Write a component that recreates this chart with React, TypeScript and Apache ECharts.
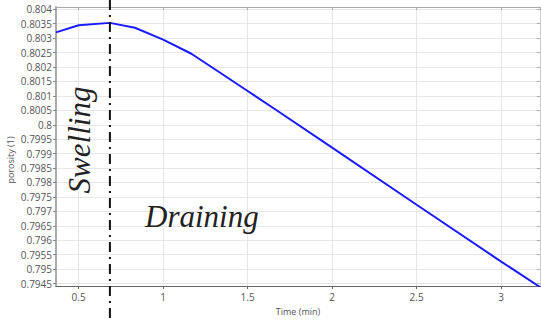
import React, { useEffect, useRef } from "react";
import * as echarts from "echarts";

const timeMin = [0.366, 0.5, 0.685, 0.833, 1.0, 1.167, 1.333, 1.5, 1.667, 2.0, 2.5, 3.0, 3.232];
const porosity = [0.8032, 0.80345, 0.80353, 0.80336, 0.80295, 0.80246, 0.80182, 0.80117, 0.80052, 0.79921, 0.79723, 0.79526, 0.79437];
const xRange = [0.366, 3.23];
const yRange = [0.79441, 0.80408];
const xStep = 0.5;
const yStep = 0.0005;
const boundaryTime = 0.685;
const labels = { x: "Time (min)", y: "porosity (1)", left: "Swelling", right: "Draining" };

export default function App() {
  const ref = useRef<HTMLDivElement>(null);
  useEffect(() => {
    if (!ref.current) return;
    const chart = echarts.init(ref.current, undefined, { renderer: "svg" });
    const gridColor = "#e6e6e6";
    const labelStyle = { color: "#555", fontSize: 10, fontFamily: "Open Sans" };
    const xBase = {
      type: "value" as const,
      min: xRange[0],
      max: xRange[1],
      minInterval: xStep,
      maxInterval: xStep,
    };
    const yBase = {
      type: "value" as const,
      min: yRange[0],
      max: yRange[1],
      minInterval: yStep,
      maxInterval: yStep,
    };
    chart.setOption({
      animation: false,
      grid: { left: 56, right: 1, top: 7, bottom: 27, containLabel: false },
      xAxis: [
        {
          ...xBase,
          position: "bottom",
          name: labels.x,
          nameLocation: "middle",
          nameGap: 17,
          nameTextStyle: { color: "#555", fontSize: 9, fontFamily: "Open Sans" },
          axisLine: { show: true, lineStyle: { color: "#666", width: 1 } },
          axisTick: { show: true, inside: false, length: 3, lineStyle: { color: "#666" } },
          axisLabel: { ...labelStyle, margin: 6, showMinLabel: false, showMaxLabel: false },
          splitLine: { show: true, lineStyle: { color: gridColor, width: 1 } },
        },
        {
          ...xBase,
          position: "top",
          axisLine: { show: true, lineStyle: { color: "#aaa", width: 1 } },
          axisTick: { show: true, inside: true, length: 3, lineStyle: { color: "#aaa" } },
          axisLabel: { show: false },
          splitLine: { show: false },
        },
      ],
      yAxis: [
        {
          ...yBase,
          position: "left",
          axisLine: { show: true, lineStyle: { color: "#aaa", width: 2 } },
          axisTick: { show: true, inside: false, length: 3, lineStyle: { color: "#888" } },
          axisLabel: { ...labelStyle, margin: 4, showMinLabel: false, showMaxLabel: false },
          splitLine: { show: true, lineStyle: { color: gridColor, width: 1 } },
        },
        {
          ...yBase,
          position: "right",
          axisLine: { show: true, lineStyle: { color: "#ccc", width: 1 } },
          axisTick: { show: true, inside: true, length: 3, lineStyle: { color: "#aaa" } },
          axisLabel: { show: false },
          splitLine: { show: false },
        },
      ],
      series: [
        {
          type: "line",
          xAxisIndex: 0,
          yAxisIndex: 0,
          data: timeMin.map((t, i) => [t, porosity[i]]),
          showSymbol: false,
          symbol: "none",
          lineStyle: { color: "#1a1aff", width: 2 },
          clip: true,
        },
      ],
    });
    const bx = chart.convertToPixel({ xAxisIndex: 0 }, boundaryTime) as number;
    const serif = "'Liberation Serif', 'Times New Roman', serif";
    chart.setOption({
      graphic: [
        {
          type: "line",
          shape: { x1: bx, y1: 0, x2: bx, y2: 321 },
          style: { stroke: "#111", lineWidth: 2, lineDash: [10, 5, 2, 5] },
          z: 10,
        },
        {
          type: "text",
          x: 10,
          y: 160,
          rotation: Math.PI / 2,
          style: {
            text: labels.y,
            fill: "#555",
            fontSize: 9,
            fontFamily: "Open Sans",
            align: "center",
            verticalAlign: "middle",
          },
        },
        {
          type: "text",
          x: 79,
          y: 140,
          rotation: Math.PI / 2,
          style: {
            text: labels.left,
            fill: "#222",
            fontSize: 31,
            fontStyle: "italic",
            fontFamily: serif,
            align: "center",
            verticalAlign: "middle",
          },
          z: 11,
        },
        {
          type: "text",
          x: 145,
          y: 216,
          style: {
            text: labels.right,
            fill: "#222",
            fontSize: 31,
            fontStyle: "italic",
            fontFamily: serif,
            align: "left",
            verticalAlign: "middle",
          },
          z: 11,
        },
      ],
    });
    return () => chart.dispose();
  }, []);
  return <div ref={ref} style={{ width: 541, height: 321, position: "absolute", left: 0, top: 0 }} />;
}
